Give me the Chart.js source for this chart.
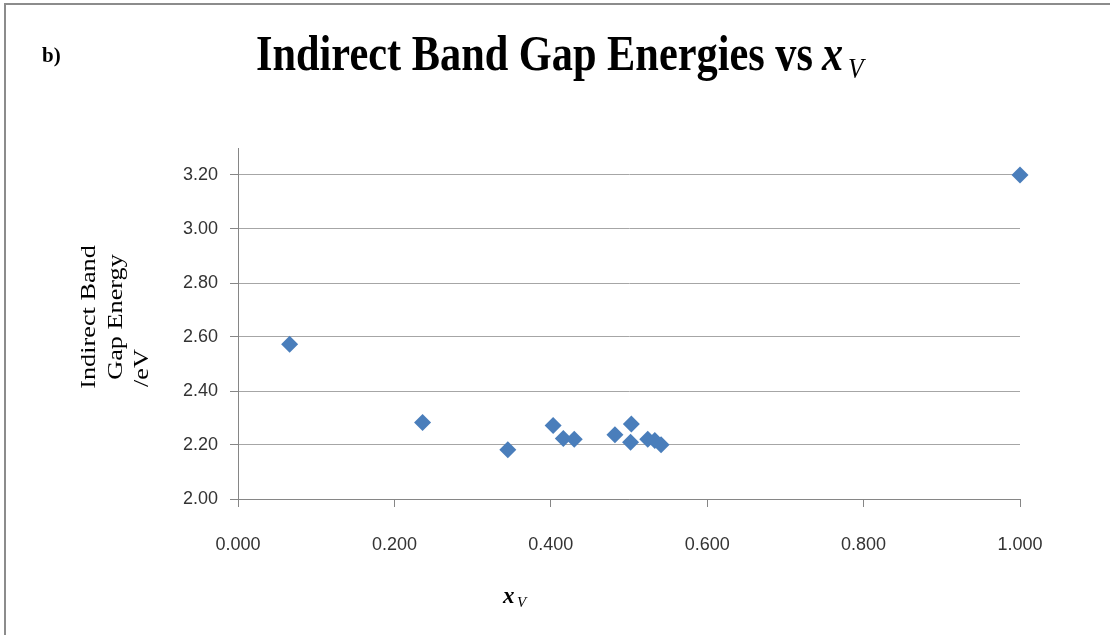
<!DOCTYPE html>
<html>
<head>
<meta charset="utf-8">
<script src="https://cdn.jsdelivr.net/npm/chart.js@4.4.1/dist/chart.umd.min.js"></script>
<style>
  html, body { margin: 0; padding: 0; background: #ffffff; }
  #wrap { position: relative; width: 1110px; height: 635px; }
</style>
</head>
<body>
<div id="wrap"><canvas id="chart" width="1110" height="635"></canvas></div>
<script>
// Vanadium fraction x_V and the indirect band gap measured for each sample (eV)
const xV = [0.066, 0.236, 0.345, 0.403, 0.416, 0.430, 0.482, 0.503, 0.502, 0.524, 0.533, 0.541, 1.000];
const gapEnergy = [2.573, 2.283, 2.182, 2.272, 2.224, 2.221, 2.238, 2.278, 2.210, 2.221, 2.217, 2.201, 3.200];

// Axis ranges and tick steps
const xTicks = [0.0, 0.2, 0.4, 0.6, 0.8, 1.0];
const yTicks = [2.0, 2.2, 2.4, 2.6, 2.8, 3.0, 3.2];
const yTop = 3.3;

// Texts
const panelTag = 'b)';
const titleMain = 'Indirect Band Gap Energies vs';
const titleVar = 'x';
const titleSub = 'V';
const yTitleLines = ['Indirect Band', 'Gap Energy', '/eV'];

const points = xV.map((x, i) => ({ x: x, y: gapEnergy[i] }));

// Frame, panel tag, title and axis titles drawn on the canvas
const decorations = {
  id: 'decorations',
  beforeDraw(chart) {
    const ctx = chart.ctx;
    ctx.save();
    ctx.fillStyle = '#ffffff';
    ctx.fillRect(0, 0, chart.width, chart.height);
    ctx.strokeStyle = '#8c8c8c';
    ctx.lineWidth = 2;
    ctx.beginPath();
    ctx.moveTo(5, chart.height);
    ctx.lineTo(5, 4);
    ctx.lineTo(chart.width, 4);
    ctx.stroke();
    ctx.restore();
  },
  afterDraw(chart) {
    const ctx = chart.ctx;
    ctx.save();
    ctx.fillStyle = '#000000';
    ctx.textBaseline = 'alphabetic';
    ctx.textAlign = 'left';

    // panel tag
    ctx.font = 'bold 21px "Liberation Serif", "Times New Roman", serif';
    ctx.fillText(panelTag, 42, 62);

    // chart title, set in a condensed bold serif
    const left = 256, mainRight = 813;
    ctx.font = 'bold 50px "Liberation Serif", "Times New Roman", serif';
    const w = ctx.measureText(titleMain).width;
    const sx = (mainRight - left) / w;
    ctx.save();
    ctx.translate(left, 70);
    ctx.scale(sx, 1);
    ctx.fillText(titleMain, 0, 0);
    ctx.restore();
    ctx.save();
    ctx.translate(822, 70);
    ctx.scale(sx, 1);
    ctx.font = 'italic bold 50px "Liberation Serif", "Times New Roman", serif';
    ctx.fillText(titleVar, 0, 0);
    ctx.restore();
    ctx.save();
    ctx.translate(848, 78);
    ctx.scale(sx, 1);
    ctx.font = 'italic 30px "Liberation Serif", "Times New Roman", serif';
    ctx.fillText(titleSub, 0, 0);
    ctx.restore();

    // x axis title
    ctx.font = 'italic bold 23px "Liberation Serif", "Times New Roman", serif';
    ctx.fillText(titleVar, 503, 603);
    ctx.font = 'italic 15px "Liberation Serif", "Times New Roman", serif';
    ctx.fillText(titleSub, 517, 607);

    // y axis title, three rotated lines stretched along their length
    ctx.font = '21px "Liberation Serif", "Times New Roman", serif';
    ctx.textAlign = 'center';
    ctx.textBaseline = 'middle';
    const cols = [{ x: 89, y: 317 }, { x: 116, y: 317 }, { x: 142, y: 368 }];
    yTitleLines.forEach((line, i) => {
      ctx.save();
      ctx.translate(cols[i].x, cols[i].y);
      ctx.rotate(-Math.PI / 2);
      ctx.scale(1.25, 1);
      ctx.fillText(line, 0, 0);
      ctx.restore();
    });
    ctx.restore();
  }
};

const tickFont = { family: '"Liberation Sans", Arial, sans-serif', size: 18 };

new Chart(document.getElementById('chart'), {
  type: 'scatter',
  data: {
    datasets: [{
      data: points,
      clip: false,
      pointStyle: 'rectRot',
      pointRadius: 8.5,
      pointHoverRadius: 8.5,
      borderWidth: 0,
      backgroundColor: '#4a7ebb',
      borderColor: '#4a7ebb'
    }]
  },
  options: {
    responsive: false,
    animation: false,
    events: [],
    layout: { padding: { left: 178, right: 90, top: 148, bottom: 66 } },
    plugins: {
      legend: { display: false },
      tooltip: { enabled: false },
      title: { display: false }
    },
    scales: {
      x: {
        type: 'linear',
        min: xTicks[0],
        max: xTicks[xTicks.length - 1],
        afterBuildTicks(scale) { scale.ticks = xTicks.map(v => ({ value: v })); },
        afterFit(scale) { scale.height = 70; },
        ticks: {
          font: tickFont,
          color: '#333333',
          padding: 27,
          maxRotation: 0,
          callback: v => Number(v).toFixed(3)
        },
        grid: {
          drawOnChartArea: false,
          drawTicks: true,
          tickLength: 8,
          color: '#868686',
          tickColor: '#868686'
        },
        border: { display: true, color: '#868686', width: 1 }
      },
      y: {
        type: 'linear',
        min: yTicks[0],
        max: yTop,
        afterBuildTicks(scale) { scale.ticks = yTicks.map(v => ({ value: v })); },
        afterFit(scale) { scale.width = 60; },
        ticks: {
          font: tickFont,
          color: '#333333',
          padding: 12,
          callback: v => Number(v).toFixed(2)
        },
        grid: {
          drawOnChartArea: true,
          drawTicks: true,
          tickLength: 8,
          color: '#a6a6a6',
          tickColor: '#868686'
        },
        border: { display: true, color: '#868686', width: 1 }
      }
    }
  },
  plugins: [decorations]
});
</script>
</body>
</html>
